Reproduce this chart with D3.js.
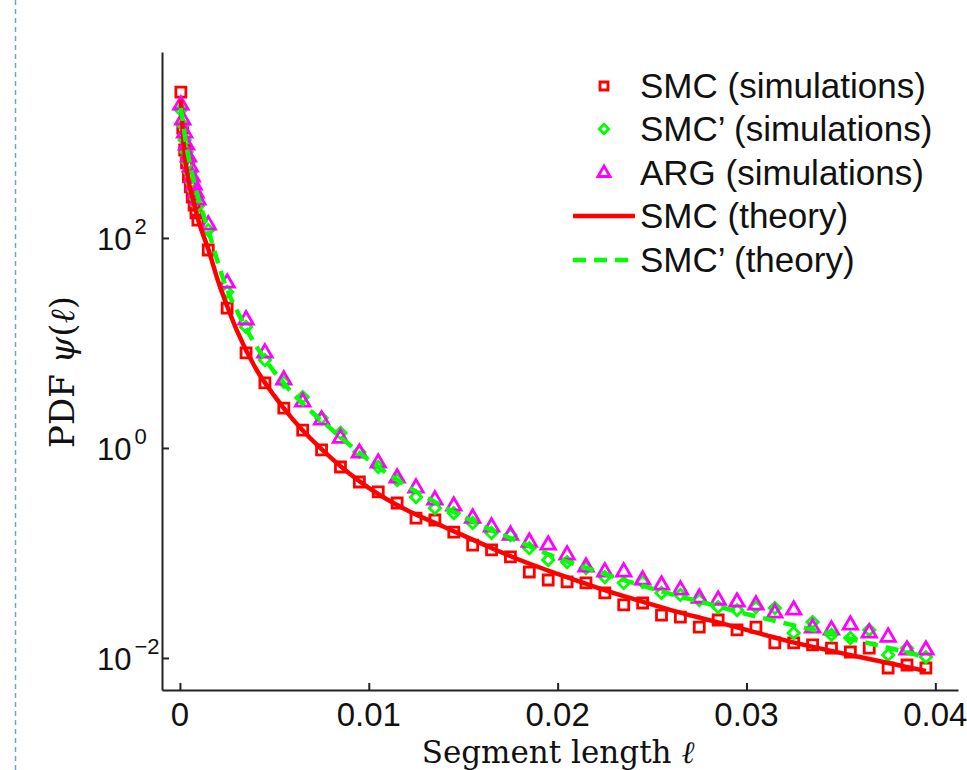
<!DOCTYPE html>
<html>
<head>
<meta charset="utf-8">
<script src="https://cdn.jsdelivr.net/npm/d3@7"></script>
<style>
  body { margin: 0; background: #fff; }
  svg { display: block; }
</style>
</head>
<body>
<div id="chart"></div>
<script>
// segment lengths of the simulation histograms (fine bins near 0, then 0.001 bins)
const simX = [0.00005, 0.00015, 0.00025, 0.00035, 0.00045, 0.00055, 0.00065, 0.00075, 0.00085, 0.00095,
  0.0015, 0.0025, 0.0035, 0.0045, 0.0055, 0.0065, 0.0075, 0.0085, 0.0095, 0.0105,
  0.0115, 0.0125, 0.0135, 0.0145, 0.0155, 0.0165, 0.0175, 0.0185, 0.0195, 0.0205,
  0.0215, 0.0225, 0.0235, 0.0245, 0.0255, 0.0265, 0.0275, 0.0285, 0.0295, 0.0305,
  0.0315, 0.0325, 0.0335, 0.0345, 0.0355, 0.0365, 0.0375, 0.0385, 0.0395]

const smcSim = [2450, 1110, 688, 518, 381, 306, 245, 206, 173, 148,
  76.8, 21.5, 8.03, 4.16, 2.40, 1.48, 0.957, 0.659, 0.474, 0.381,
  0.299, 0.215, 0.206, 0.158, 0.119, 0.107, 0.0917, 0.0659, 0.0553, 0.0530,
  0.0518, 0.0416, 0.0320, 0.0334, 0.0256, 0.0245, 0.0197, 0.0230, 0.0185, 0.0197,
  0.0139, 0.0139, 0.0133, 0.0124, 0.0114, 0.0124, 0.00803, 0.00857, 0.00803]

const smcPrimeSim = [1656, 1191, 857, 659, 518, 416, 334, 280, 235, 202,
  119, 30.6, 14.2, 6.88, 4.25, 3.05, 1.93, 1.39, 0.916, 0.659,
  0.495, 0.341, 0.268, 0.240, 0.193, 0.155, 0.148, 0.111, 0.0857, 0.0820,
  0.0719, 0.0590, 0.0518, 0.0530, 0.0416, 0.0398, 0.0356, 0.0305, 0.0286, 0.0305,
  0.0299, 0.0173, 0.0220, 0.0166, 0.0155, 0.0185, 0.0107, 0.0124, 0.0102]

const argSim = [1846, 1330, 1000, 768, 590, 474, 381, 320, 268, 230,
  133, 37.2, 16.6, 8.03, 4.44, 2.74, 1.85, 1.24, 0.895, 0.719,
  0.518, 0.416, 0.320, 0.280, 0.215, 0.177, 0.148, 0.127, 0.119, 0.0957,
  0.0735, 0.0659, 0.0659, 0.0553, 0.0495, 0.0444, 0.0372, 0.0356, 0.0341, 0.0320,
  0.0268, 0.0286, 0.0193, 0.0185, 0.0206, 0.0173, 0.0158, 0.0119, 0.0119]

// theory curves
const theoryX = [0.00005, 0.0002, 0.0004, 0.0007, 0.001, 0.0015, 0.002, 0.0025, 0.003, 0.004,
  0.005, 0.006, 0.008, 0.010, 0.012, 0.014, 0.016, 0.018, 0.020, 0.022,
  0.024, 0.026, 0.028, 0.030, 0.032, 0.034, 0.036, 0.038, 0.0395]

const smcTheory = [2061, 768, 398, 230, 142, 78.5, 39.8, 22.5, 13.3, 5.78,
  3.13, 1.85, 0.804, 0.416, 0.256, 0.177, 0.122, 0.0857, 0.0631, 0.0474,
  0.0365, 0.0286, 0.0230, 0.0185, 0.0148, 0.0122, 0.0102, 0.00857, 0.00752]

const smcPrimeTheory = [1730, 1110, 659, 372, 230, 119, 59.0, 32.0, 20.6, 9.57,
  5.29, 3.27, 1.52, 0.767, 0.435, 0.274, 0.181, 0.127, 0.0895, 0.0673,
  0.0518, 0.0406, 0.0327, 0.0262, 0.0215, 0.0177, 0.0145, 0.0119, 0.0102]

const xTicks = [0, 0.01, 0.02, 0.03, 0.04]
const xTickLabels = ["0", "0.01", "0.02", "0.03", "0.04"]
const yTicks = [0.01, 1, 100]
const yTickExp = ["\u22122", "0", "2"]

const legendLabels = ["SMC (simulations)", "SMC\u2019 (simulations)", "ARG (simulations)", "SMC (theory)", "SMC\u2019 (theory)"]

const width = 967, height = 770

const svg = d3.select("#chart").append("svg")
  .attr("width", width)
  .attr("height", height)

// the dashed page guide on the left
svg.append("line")
  .attr("x1", 15.5).attr("x2", 15.5)
  .attr("y1", 0).attr("y2", height)
  .attr("stroke", "#6aa3d8")
  .attr("stroke-width", 1.5)
  .attr("stroke-dasharray", "5,4")

const x = d3.scaleLinear()
  .domain([-0.00095, 0.0412])
  .range([162, 958])

const y = d3.scaleLog()
  .domain([Math.pow(10, -2.305), Math.pow(10, 3.771)])
  .range([690, 52])

// axes, ticks point inward
const xAxis = svg.append("g")
  .attr("transform", "translate(0,690)")
  .call(d3.axisTop(x).tickValues(xTicks).tickSize(7).tickSizeOuter(0).tickFormat(""))
const yAxis = svg.append("g")
  .attr("transform", "translate(162,0)")
  .call(d3.axisRight(y).tickValues(yTicks).tickSize(7).tickSizeOuter(0).tickFormat(""))

svg.selectAll(".domain").attr("stroke", "#222").attr("stroke-width", 2)
svg.selectAll(".tick line").attr("stroke", "#222").attr("stroke-width", 2)

svg.selectAll(".xlab")
  .data(xTicks)
  .enter().append("text")
  .attr("class", "xlab")
  .attr("x", d => x(d))
  .attr("y", 726)
  .attr("text-anchor", "middle")
  .style("font-family", "'Liberation Sans', Arial, sans-serif")
  .style("font-size", "33px")
  .attr("fill", "#111")
  .text((d, i) => xTickLabels[i])

const ylab = svg.selectAll(".ylab")
  .data(yTicks)
  .enter().append("text")
  .attr("class", "ylab")
  .attr("x", 97)
  .attr("y", d => y(d) + 12)
  .style("font-family", "'Liberation Sans', Arial, sans-serif")
  .style("font-size", "31px")
  .attr("fill", "#111")
ylab.append("tspan").text("10")
ylab.append("tspan")
  .attr("dx", 3)
  .attr("dy", -16)
  .style("font-size", "22px")
  .text((d, i) => yTickExp[i])

// axis titles
svg.append("text")
  .attr("x", 558)
  .attr("y", 762.5)
  .attr("text-anchor", "middle")
  .style("font-family", "'DejaVu Serif', serif")
  .style("font-size", "31px")
  .attr("fill", "#111")
  .html("Segment length <tspan font-style='italic'>\u2113</tspan>")

svg.append("text")
  .attr("transform", "translate(74,372) rotate(-90)")
  .attr("text-anchor", "middle")
  .style("font-family", "'DejaVu Serif', serif")
  .style("font-size", "34px")
  .attr("fill", "#111")
  .html("PDF <tspan font-style='italic'>\u03c8</tspan>(<tspan font-style='italic'>\u2113</tspan>)")

// markers
const squareSym = d3.symbol(d3.symbolSquare, 100)
const diamondSym = d3.symbol(d3.symbolSquare, 64)
const triangleSym = d3.symbol(d3.symbolTriangle, 90)

function drawMarkers(values, sym, color, rot) {
  svg.append("g")
    .selectAll("path")
    .data(simX)
    .enter().append("path")
    .attr("d", sym)
    .attr("transform", (d, i) => "translate(" + x(d) + "," + y(values[i]) + ")" + (rot ? " rotate(45)" : ""))
    .attr("fill", "none")
    .attr("stroke", color)
    .attr("stroke-width", 2.8)
}

drawMarkers(smcSim, squareSym, "#ff0000", false)
drawMarkers(smcPrimeSim, diamondSym, "#00ff00", true)
drawMarkers(argSim, triangleSym, "#ff00ff", false)

const line = d3.line()
  .x(d => x(d[0]))
  .y(d => y(d[1]))
  .curve(d3.curveMonotoneX)

svg.append("path")
  .datum(theoryX.map((d, i) => [d, smcTheory[i]]))
  .attr("d", line)
  .attr("fill", "none")
  .attr("stroke", "#ff0000")
  .attr("stroke-width", 4.5)

svg.append("path")
  .datum(theoryX.map((d, i) => [d, smcPrimeTheory[i]]))
  .attr("d", line)
  .attr("fill", "none")
  .attr("stroke", "#00ff00")
  .attr("stroke-width", 4.5)
  .attr("stroke-dasharray", "13,8")

// legend
const legend = svg.append("g")
const rowY = [86, 129, 173, 216, 260]

legend.append("path").attr("d", d3.symbol(d3.symbolSquare, 64))
  .attr("transform", "translate(604," + rowY[0] + ")")
  .attr("fill", "none").attr("stroke", "#ff0000").attr("stroke-width", 2.8)
legend.append("path").attr("d", d3.symbol(d3.symbolSquare, 44))
  .attr("transform", "translate(604," + rowY[1] + ") rotate(45)")
  .attr("fill", "none").attr("stroke", "#00ff00").attr("stroke-width", 2.8)
legend.append("path").attr("d", d3.symbol(d3.symbolTriangle, 64))
  .attr("transform", "translate(604," + rowY[2] + ")")
  .attr("fill", "none").attr("stroke", "#ff00ff").attr("stroke-width", 2.8)
legend.append("line")
  .attr("x1", 573).attr("x2", 635).attr("y1", rowY[3]).attr("y2", rowY[3])
  .attr("stroke", "#ff0000").attr("stroke-width", 4.5)
legend.append("line")
  .attr("x1", 573).attr("x2", 635).attr("y1", rowY[4]).attr("y2", rowY[4])
  .attr("stroke", "#00ff00").attr("stroke-width", 4.5)
  .attr("stroke-dasharray", "13,8")

legend.selectAll("text")
  .data(legendLabels)
  .enter().append("text")
  .attr("x", 640)
  .attr("y", (d, i) => rowY[i] + 12)
  .style("font-family", "'Liberation Sans', Arial, sans-serif")
  .style("font-size", "35px")
  .attr("fill", "#111")
  .text(d => d)
</script>
</body>
</html>
